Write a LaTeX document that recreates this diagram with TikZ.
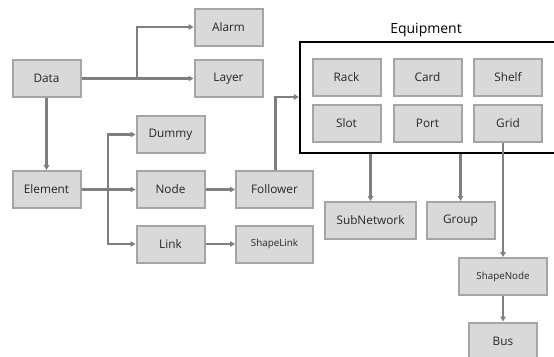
\documentclass[tikz,border=0pt]{standalone}
\usepackage{fontspec}
\setmainfont{Open Sans}
\usetikzlibrary{arrows.meta}
\definecolor{boxfill}{HTML}{D9D9D9}
\definecolor{boxline}{HTML}{A5A5A5}
\definecolor{wire}{HTML}{7F7F7F}
\begin{document}
\begin{tikzpicture}[x=1pt,y=-1pt,
  box/.style={draw=boxline,fill=boxfill,line width=2pt,minimum width=68pt,minimum height=37pt,inner sep=0pt,font=\fontsize{11.8}{13}\selectfont,text=black!85},
  wide/.style={box,minimum width=77pt},
  small/.style={font=\fontsize{9.8}{11}\selectfont},
  arr/.style={draw=wire,line width=2.3pt,-{Triangle[length=5pt,width=5.5pt]}}]
\useasboundingbox (0,0) rectangle (554,356);
\clip (0,0) rectangle (554,356);
% left tree
\node[box] (data) at (46.5,78.5) {Data};
\node[box] (alarm) at (228.5,27) {Alarm};
\node[box] (layer) at (228.5,78.5) {Layer};
\node[box] (element) at (46.5,189.5) {Element};
\node[box] (dummy) at (170.5,134.5) {Dummy};
\node[box] (node) at (170.5,189.5) {Node};
\node[box] (link) at (170.5,244) {Link};
\node[wide] (follower) at (274.5,189.5) {Follower};
\node[wide,small] (shapelink) at (274.5,244) {ShapeLink};
% equipment group
\node[draw=black,line width=2.3pt,minimum width=260pt,minimum height=111pt,inner sep=0pt] (equip) at (430,97.5) {};
\node[font=\fontsize{14}{16}\selectfont] (equiplabel) at (426,30.5) {Equipment};
\node[box] (rack) at (346.5,77.5) {Rack};
\node[box] (card) at (427.5,77.5) {Card};
\node[box] (shelf) at (508,77.5) {Shelf};
\node[box] (slot) at (346.5,123.5) {Slot};
\node[box] (port) at (427.5,123.5) {Port};
\node[box] (grid) at (508,123.5) {Grid};
% right side
\node[box,minimum width=91pt] (subnet) at (370.5,220.5) {SubNetwork};
\node[box] (group) at (460.5,220.5) {Group};
\node[box,minimum width=88pt,small] (shapenode) at (503,276.5) {ShapeNode};
\node[box] (bus) at (503,341) {Bus};
% connectors
\coordinate (djoin) at (137,78.5);
\coordinate (ejoin) at (108,189.5);
\draw[arr] (data.east) -- (layer.west);
\draw[arr] (djoin) |- (alarm.west);
\draw[arr] (data.south) -- (element.north);
\draw[arr] (element.east) -- (node.west);
\draw[arr] (ejoin) |- (dummy.west);
\draw[arr] (ejoin) |- (link.west);
\draw[arr] (node.east) -- (follower.west);
\draw[arr] (link.east) -- (shapelink.west);
\draw[arr] ([xshift=1pt]follower.north) |- (equip.west |- 0,97);
\draw[arr] (equip.south -| subnet.north) -- (subnet.north);
\draw[arr] (equip.south -| group.north) -- (group.north);
\draw[arr] (shapenode.north |- grid.south) -- (shapenode.north);
\draw[arr] (shapenode.south) -- (bus.north);
\end{tikzpicture}
\end{document}
